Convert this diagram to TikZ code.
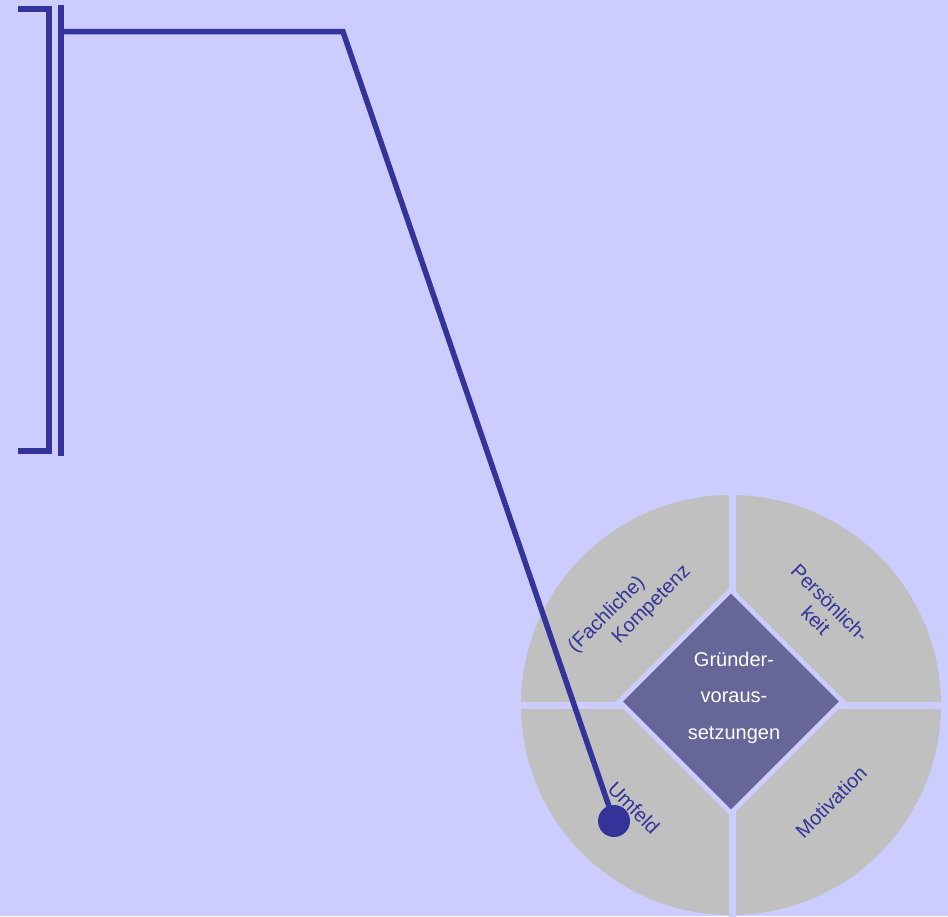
\documentclass[tikz,border=0pt]{standalone}
\usepackage{fontspec}
\setmainfont{Liberation Sans}
\definecolor{bg}{HTML}{CCCCFF}
\definecolor{quad}{HTML}{C0C0C0}
\definecolor{dia}{HTML}{666699}
\definecolor{ink}{HTML}{333399}
\begin{document}
\begin{tikzpicture}[x=1pt,y=-1pt,
  inkline/.style={draw=ink,line width=6pt,line join=miter},
  qlabel/.style={text=ink,font=\fontsize{20}{24}\selectfont,inner sep=0pt},
  dlabel/.style={text=white,font=\fontsize{20}{24}\selectfont,inner sep=0pt,anchor=base}]
\fill[bg] (0,0) rectangle (948,916);
\useasboundingbox (0,0) rectangle (948,916);
% wheel
\fill[quad] (731,705) circle (210);
\draw[bg,line width=7pt] (732.5,490) -- (732.5,920);
\draw[bg,line width=7pt] (515,705.4) -- (945,705.4);
\fill[bg] (731,586.5) -- (846,701.5) -- (731,816.5) -- (616,701.5) -- cycle;
\node[fill=dia,shape=rectangle,minimum size=152.7pt,rotate=45,inner sep=0pt] (core) at (731,701.5) {};
\node[dlabel] (g1) at (734,666) {Gründer-};
\node[dlabel] (g2) at (734,702.5) {voraus-};
\node[dlabel] (g3) at (734,739) {setzungen};
% quadrant labels
\node[qlabel,rotate=45] (k1) at (607,615) {(Fachliche)};
\node[qlabel,rotate=45] (k2) at (652,605) {Kompetenz};
\node[qlabel,rotate=-45] (p1) at (830,603) {Persönlich-};
\node[qlabel,rotate=-45] (p2) at (816,620) {keit};
\node[qlabel,rotate=45] (mo) at (831,802) {Motivation};
\node[qlabel,rotate=-45] (um) at (634,808) {Umfeld};
% bracket and bar
\coordinate (b1) at (18,8.5);
\coordinate (b2) at (49,8.5);
\coordinate (b3) at (49,450.5);
\coordinate (b4) at (18,450.5);
\draw[inkline] (b1) -- (b2) -- (b3) -- (b4);
\coordinate (bartop) at (61,5);
\coordinate (barbot) at (61,456);
\draw[inkline] (bartop) -- (barbot);
% pointer
\coordinate (ls) at (61,31.7);
\coordinate (lk) at (343,31.7);
\node[circle,fill=ink,minimum size=32pt,inner sep=0pt] (dot) at (614,821) {};
\draw[inkline,line width=5.5pt] (ls) -- (lk) -- (dot.center);
\end{tikzpicture}
\end{document}
